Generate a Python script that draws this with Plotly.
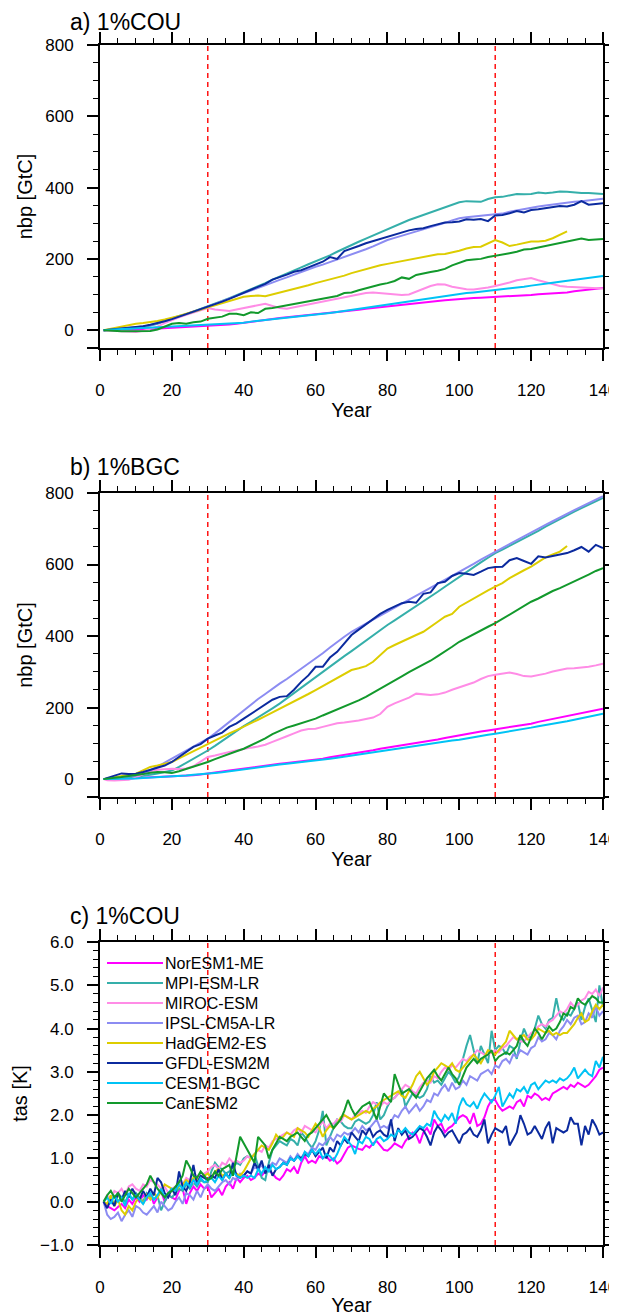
import plotly.graph_objects as go

# ---- data ---------------------------------------------------------------
models = ['NorESM1-ME', 'MPI-ESM-LR', 'MIROC-ESM', 'IPSL-CM5A-LR',
          'HadGEM2-ES', 'GFDL-ESM2M', 'CESM1-BGC', 'CanESM2']
colors = ['#FF00FF', '#35AFAA', '#FF8CE6', '#8C8CF2',
          '#DDCD00', '#0B2A9E', '#00C3F5', '#12992C']

years_ab = [1] + list(range(2, 141, 2))
years_had = years_ab[:66]          # HadGEM2-ES stops at year 130
years_c = list(range(1, 141))

# a) 1%COU  nbp [GtC]
cou_noresm = [0, 0, 0, 1, 1, 1, 2, 3, 4, 5, 6, 7, 8, 9, 11, 12, 13, 15, 16, 18, 21,
              23, 26, 28, 31, 34, 36, 38, 39, 41, 43, 46, 48, 50, 53, 55, 57, 60, 62, 65, 68,
              70, 72, 74, 76, 78, 80, 82, 84, 86, 87, 89, 90, 91, 92, 92, 93, 95, 96, 98, 99,
              101, 102, 104, 105, 106, 109, 111, 114, 116, 118]
cou_mpi = [0, 0, 1, 2, 4, 6, 9, 13, 18, 26, 34, 40, 45, 52, 59, 66, 74, 82, 90, 98, 107,
           115, 124, 132, 142, 150, 159, 168, 176, 185, 193, 200, 210, 220, 230, 239, 248, 257, 266, 275, 283,
           291, 300, 309, 316, 323, 330, 338, 346, 353, 359, 362, 360, 360, 368, 373, 374, 378, 382, 381, 382,
           386, 384, 386, 389, 388, 386, 385, 385, 384, 382]
cou_miroc = [0, -1, -2, -3, -4, -5, -2, 3, 10, 20, 29, 36, 43, 50, 56, 62, 58, 55, 54, 58, 62,
             66, 70, 74, 68, 62, 60, 64, 68, 72, 76, 80, 84, 88, 92, 97, 100, 104, 106, 104, 104,
             102, 99, 100, 108, 118, 124, 129, 128, 122, 118, 115, 114, 116, 120, 124, 128, 134, 140, 144, 146,
             140, 134, 128, 124, 122, 121, 121, 120, 118, 117]
cou_ipsl = [0, 1, 2, 3, 5, 7, 10, 14, 19, 25, 31, 38, 44, 50, 58, 66, 74, 82, 89, 97, 104,
            111, 119, 126, 134, 141, 148, 156, 163, 170, 178, 184, 191, 198, 204, 211, 219, 227, 235, 244, 253,
            259, 265, 271, 276, 281, 288, 294, 301, 308, 314, 317, 319, 321, 322, 323, 327, 332, 336, 341, 345,
            347, 350, 353, 356, 358, 360, 362, 365, 367, 369]
cou_hadgem = [0, 2, 5, 8, 12, 18, 20, 22, 26, 30, 34, 40, 46, 52, 57, 62, 68, 76, 82, 88, 94,
              96, 97, 95, 100, 104, 110, 115, 120, 126, 132, 137, 141, 146, 153, 160, 166, 172, 176, 182, 186,
              190, 195, 198, 201, 207, 211, 213, 214, 218, 223, 229, 233, 234, 244, 253, 246, 236, 240, 245, 249,
              249, 251, 258, 267, 277]
cou_gfdl = [0, 1, 2, 4, 6, 8, 11, 15, 19, 25, 31, 38, 44, 50, 58, 66, 72, 80, 88, 96, 104,
            112, 120, 130, 142, 148, 156, 164, 168, 176, 183, 192, 205, 200, 222, 228, 236, 244, 250, 258, 263,
            270, 275, 280, 284, 286, 292, 298, 302, 303, 305, 311, 310, 312, 306, 322, 323, 328, 334, 330, 337,
            339, 342, 346, 348, 347, 352, 362, 352, 354, 356]
cou_cesm = [0, 1, 2, 3, 4, 5, 6, 7, 8, 9, 10, 11, 12, 13, 14, 15, 16, 17, 18, 20, 21,
            24, 26, 29, 31, 34, 36, 38, 40, 42, 43, 46, 48, 51, 54, 57, 60, 62, 65, 68, 71,
            74, 78, 81, 85, 88, 91, 94, 97, 100, 102, 104, 106, 108, 111, 113, 115, 117, 120, 122, 125,
            127, 130, 133, 136, 139, 142, 144, 147, 150, 152]
cou_canesm = [0, -1, -2, -3, -3, -2, -1, -2, 2, 10, 18, 20, 18, 22, 24, 32, 34, 38, 46, 46, 42,
              50, 48, 60, 62, 66, 70, 72, 76, 80, 84, 90, 92, 96, 104, 106, 112, 118, 124, 128, 132,
              138, 148, 144, 155, 160, 163, 167, 172, 182, 190, 196, 198, 200, 205, 208, 212, 216, 220, 226, 228,
              232, 235, 240, 244, 248, 252, 257, 253, 254, 256]

# b) 1%BGC  nbp [GtC]
bgc_noresm = [0, 0, 0, 1, 2, 3, 4, 4, 5, 5, 6, 7, 9, 11, 13, 15, 18, 21, 24, 27, 29,
              32, 35, 38, 41, 43, 45, 47, 50, 52, 54, 57, 61, 64, 67, 71, 75, 78, 81, 85, 88,
              91, 94, 97, 101, 104, 108, 111, 115, 119, 122, 126, 130, 133, 136, 139, 142, 145, 149, 152, 155,
              160, 164, 169, 173, 178, 181, 185, 189, 193, 197]
bgc_mpi = [0, 0, 1, 2, 4, 6, 9, 12, 16, 20, 24, 34, 45, 56, 68, 80, 93, 107, 120, 134, 148,
           160, 172, 185, 198, 211, 226, 241, 256, 271, 286, 300, 315, 329, 344, 358, 373, 387, 402, 416, 431,
           444, 457, 470, 483, 496, 510, 524, 538, 552, 566, 579, 592, 606, 619, 632, 642, 652, 663, 673, 683,
           694, 706, 717, 728, 739, 748, 758, 767, 777, 786]
bgc_miroc = [0, -3, -4, -4, -2, 5, 14, 22, 26, 28, 29, 28, 30, 36, 48, 62, 66, 72, 76, 80, 85,
             88, 91, 96, 104, 113, 120, 128, 136, 140, 141, 146, 152, 156, 158, 160, 164, 168, 172, 182, 202,
             212, 220, 228, 239, 236, 235, 237, 242, 250, 256, 262, 270, 280, 288, 292, 294, 298, 294, 288, 287,
             290, 295, 301, 305, 309, 310, 311, 314, 318, 323]
bgc_ipsl = [0, 1, 3, 5, 7, 10, 16, 24, 34, 46, 57, 67, 78, 90, 102, 113, 128, 144, 160, 177, 193,
            208, 224, 238, 253, 267, 280, 294, 309, 323, 337, 352, 368, 384, 398, 412, 424, 435, 446, 457, 468,
            479, 490, 502, 513, 524, 535, 546, 558, 569, 580, 591, 602, 614, 625, 636, 647, 658, 669, 679, 690,
            700, 711, 721, 732, 742, 752, 762, 771, 781, 791]
bgc_hadgem = [0, 2, 5, 8, 12, 15, 24, 34, 38, 42, 48, 58, 68, 80, 88, 99, 109, 118, 128, 137, 146,
              156, 166, 176, 186, 197, 208, 218, 228, 238, 249, 260, 272, 282, 294, 305, 310, 316, 328, 346, 365,
              375, 385, 394, 403, 412, 425, 440, 454, 462, 482, 494, 506, 518, 528, 538, 548, 562, 574, 584, 594,
              606, 620, 628, 636, 652]
bgc_gfdl = [0, 3, 8, 16, 14, 15, 20, 26, 31, 38, 48, 62, 76, 90, 98, 113, 122, 130, 146, 156, 169,
            182, 196, 208, 222, 230, 232, 250, 272, 290, 314, 314, 340, 356, 380, 403, 418, 432, 448, 462, 473,
            482, 492, 496, 493, 518, 522, 548, 552, 568, 576, 574, 571, 580, 590, 593, 594, 612, 618, 610, 602,
            623, 620, 624, 627, 632, 640, 649, 636, 655, 646]
bgc_cesm = [0, 0, 0, 1, 1, 2, 3, 4, 5, 5, 6, 8, 10, 12, 13, 15, 17, 19, 22, 24, 26,
            29, 32, 35, 38, 41, 43, 45, 47, 50, 52, 54, 57, 60, 63, 66, 70, 73, 76, 80, 83,
            86, 89, 91, 94, 97, 99, 102, 105, 108, 110, 114, 117, 120, 124, 127, 130, 134, 137, 141, 144,
            148, 151, 155, 158, 162, 166, 170, 174, 178, 183]
bgc_canesm = [0, 2, 4, 6, 8, 10, 14, 18, 20, 19, 17, 22, 28, 36, 42, 48, 56, 64, 72, 78, 85,
              94, 104, 114, 126, 136, 144, 150, 156, 162, 169, 178, 186, 194, 202, 211, 220, 230, 241, 252, 263,
              275, 287, 299, 309, 319, 331, 344, 356, 370, 384, 395, 406, 416, 426, 436, 448, 460, 472, 484, 496,
              505, 516, 526, 534, 543, 552, 562, 572, 582, 590]

# c) 1%COU  tas [K]
tas_noresm = [0.00, -0.10, -0.15, -0.20, -0.12, -0.05, -0.15, 0.05, -0.05, 0.10,
              0.00, 0.15, 0.05, 0.20, -0.05, 0.10, 0.25, 0.00, 0.15, 0.10,
              0.05, 0.25, 0.30, -0.05, 0.20, 0.35, 0.25, 0.40, 0.30, 0.35,
              0.10, 0.20, 0.30, 0.15, 0.35, 0.45, 0.30, 0.55, 0.45, 0.55,
              0.60, 0.50, 0.55, 0.65, 0.60, 0.70, 0.72, 0.65, 0.55, 0.50,
              0.60, 0.75, 0.70, 0.80, 0.65, 0.90, 1.05, 0.90, 0.95, 0.90,
              1.05, 1.00, 1.05, 0.95, 1.00, 0.88, 0.95, 1.10, 1.25, 1.30,
              1.25, 1.22, 1.20, 1.30, 1.25, 1.35, 1.40, 1.30, 1.20, 1.18,
              1.25, 1.35, 1.30, 1.25, 1.40, 1.50, 1.60, 1.55, 1.35, 1.60,
              1.70, 1.55, 1.90, 1.75, 1.80, 1.60, 1.70, 1.75, 1.85, 1.95,
              2.00, 1.95, 1.80, 2.05, 1.75, 1.80, 1.95, 2.20, 2.35, 2.35,
              2.20, 2.10, 2.15, 2.20, 2.15, 2.30, 2.35, 2.20, 2.45, 2.40,
              2.50, 2.45, 2.35, 2.40, 2.35, 2.50, 2.55, 2.60, 2.65, 2.60,
              2.70, 2.65, 2.75, 2.70, 2.65, 2.70, 2.80, 2.90, 3.05, 3.10]
tas_mpi = [0.00, 0.10, 0.05, -0.05, 0.20, 0.10, 0.00, 0.15, 0.05, 0.20,
           0.10, 0.00, 0.20, 0.10, 0.05, 0.15, -0.20, 0.00, 0.15, 0.10,
           0.20, 0.30, 0.25, 0.40, 0.30, 0.45, 0.35, 0.50, 0.45, 0.45,
           0.70, 0.90, 0.80, 0.75, 0.65, 0.70, 0.80, 0.90, 0.85, 1.00,
           1.05, 1.00, 1.10, 0.80, 0.55, 0.50, 0.90, 1.20, 1.30, 1.40,
           1.35, 1.30, 1.45, 1.40, 1.30, 1.60, 1.50, 1.35, 1.25, 1.40,
           1.65, 2.10, 1.30, 1.50, 1.70, 1.90, 1.85, 1.75, 1.70, 1.70,
           1.85, 1.90, 1.85, 1.80, 1.85, 2.00, 2.30, 1.90, 2.00, 2.20,
           2.35, 2.40, 2.50, 2.60, 2.20, 2.35, 2.50, 2.45, 2.40, 2.45,
           2.60, 2.90, 2.75, 2.80, 2.70, 2.85, 3.00, 2.90, 2.75, 2.90,
           3.30, 3.60, 3.85, 3.50, 3.20, 3.60, 3.40, 3.20, 3.95, 3.50,
           3.60, 3.55, 3.40, 3.60, 3.55, 3.30, 3.70, 4.00, 3.80, 3.80,
           4.00, 4.30, 4.10, 4.00, 4.20, 4.25, 4.70, 4.30, 4.20, 4.35,
           4.30, 4.45, 4.60, 4.20, 4.50, 4.70, 4.40, 4.15, 5.00, 4.50]
tas_miroc = [0.00, 0.15, 0.05, 0.25, 0.20, 0.30, 0.15, 0.35, 0.40, 0.30,
             0.25, 0.40, 0.35, 0.50, 0.45, 0.40, 0.30, 0.35, 0.20, 0.30,
             0.35, 0.45, 0.40, 0.55, 0.50, 0.45, 0.60, 0.55, 0.65, 0.70,
             0.80, 0.85, 0.75, 0.90, 0.85, 1.00, 0.90, 0.95, 0.90, 0.95,
             1.05, 1.00, 1.10, 1.20, 1.15, 1.30, 1.25, 1.40, 1.45, 1.50,
             1.55, 1.60, 1.55, 1.65, 1.70, 1.60, 1.75, 1.70, 1.65, 1.60,
             1.75, 1.85, 1.70, 1.80, 1.80, 1.90, 1.85, 2.00, 1.95, 1.90,
             2.00, 2.05, 2.10, 2.05, 2.20, 2.30, 2.25, 2.20, 2.30, 2.25,
             2.35, 2.40, 2.50, 2.60, 2.70, 2.65, 2.55, 2.50, 2.65, 2.75,
             2.80, 2.75, 2.90, 2.85, 3.00, 3.10, 3.05, 3.15, 3.10, 3.20,
             3.30, 3.25, 3.35, 3.40, 3.50, 3.45, 3.40, 3.40, 3.45, 3.50,
             3.45, 3.55, 3.60, 3.70, 3.80, 3.75, 3.70, 3.70, 3.80, 3.90,
             3.95, 4.05, 4.10, 4.05, 4.15, 4.20, 4.30, 4.40, 4.35, 4.45,
             4.60, 4.50, 4.55, 4.65, 4.70, 4.85, 4.80, 4.90, 4.75, 4.95]
tas_ipsl = [0.00, -0.30, -0.40, -0.35, -0.25, -0.45, -0.30, -0.20, -0.35, -0.10,
            -0.15, -0.25, -0.30, -0.20, -0.10, -0.25, 0.00, -0.10, -0.20, -0.15,
            0.00, 0.10, -0.05, 0.20, 0.15, 0.05, 0.25, 0.10, 0.30, 0.40,
            0.30, 0.25, 0.35, 0.45, 0.50, 0.40, 0.55, 0.50, 0.65, 0.60,
            0.70, 0.65, 0.80, 0.75, 0.85, 0.70, 0.80, 0.90, 0.85, 1.00,
            0.95, 0.90, 1.05, 0.95, 1.10, 1.00, 1.15, 1.10, 1.25, 1.20,
            1.35, 1.30, 1.40, 1.50, 1.40, 1.55, 1.50, 1.60, 1.55, 1.60,
            1.70, 1.60, 1.75, 1.65, 1.70, 1.80, 1.90, 1.70, 1.75, 1.70,
            1.85, 2.00, 1.95, 2.10, 2.20, 2.05, 2.15, 2.25, 2.10, 2.20,
            2.35, 2.30, 2.50, 2.45, 2.60, 2.70, 2.55, 2.75, 2.60, 2.65,
            2.80, 2.70, 2.90, 2.85, 2.80, 2.95, 3.00, 3.05, 2.95, 3.15,
            3.10, 3.25, 3.30, 3.20, 3.40, 3.35, 3.50, 3.45, 3.40, 3.55,
            3.60, 3.80, 3.70, 3.75, 3.90, 3.85, 3.75, 3.95, 4.05, 4.20,
            4.10, 4.25, 4.30, 4.10, 4.15, 4.35, 4.25, 4.50, 4.30, 4.40]
tas_hadgem = [0.00, -0.05, 0.15, -0.10, 0.05, -0.20, -0.30, -0.10, -0.20, 0.00,
              0.10, -0.05, 0.15, 0.05, 0.20, 0.10, 0.25, 0.40, 0.35, 0.30,
              0.25, 0.35, 0.40, 0.50, 0.45, 0.55, 0.50, 0.55, 0.60, 0.65,
              0.55, 0.70, 0.75, 0.60, 0.65, 0.55, 0.70, 0.65, 0.60, 0.70,
              0.85, 1.00, 1.10, 1.20, 1.30, 1.25, 1.20, 1.35, 1.55, 1.45,
              1.50, 1.60, 1.55, 1.50, 1.70, 1.65, 1.60, 1.50, 1.65, 1.80,
              1.70, 1.50, 1.65, 1.75, 1.70, 1.80, 1.95, 2.00, 1.95, 1.90,
              1.95, 2.00, 2.05, 2.10, 2.05, 2.15, 2.20, 2.30, 2.35, 2.40,
              2.45, 2.50, 2.55, 2.45, 2.40, 2.55, 2.70, 2.90, 3.00, 2.85,
              2.70, 2.80, 3.00, 3.10, 3.20, 3.15, 3.10, 3.20, 3.05, 3.00,
              3.10, 3.20, 3.30, 3.40, 3.30, 3.20, 3.35, 3.50, 3.45, 3.40,
              3.50, 3.60, 3.70, 3.95, 3.85, 3.75, 3.80, 3.85, 3.75, 3.75,
              3.85, 4.00, 3.95, 3.90, 3.95, 3.85, 3.90, 3.85, 3.90, 3.90,
              4.00, 4.10, 4.25, 4.35, 4.15, 4.20, 4.40, 4.55, 4.45, 4.55]
tas_gfdl = [0.00, -0.15, 0.05, -0.10, 0.20, 0.05, 0.25, 0.10, 0.30, 0.15,
            0.05, 0.25, 0.10, 0.30, 0.15, 0.55, 0.45, 0.20, 0.10, 0.30,
            0.15, 0.70, 0.35, 0.25, 0.45, 0.85, 0.40, 0.60, 0.55, 0.50,
            0.60, 0.55, 0.75, 0.50, 0.65, 0.55, 0.90, 0.60, 0.55, 0.60,
            0.70, 0.65, 0.90, 0.75, 0.95, 0.65, 0.85, 0.60, 0.75, 0.80,
            0.90, 0.85, 1.00, 0.95, 1.05, 1.00, 1.10, 1.05, 1.20, 1.05,
            1.15, 1.25, 1.00, 1.25, 1.15, 1.40, 1.30, 1.45, 1.35, 1.60,
            1.50, 1.40, 1.65, 1.55, 1.70, 1.50, 1.60, 1.65, 1.55, 1.50,
            1.90, 1.40, 1.70, 1.55, 1.65, 1.45, 1.50, 1.60, 1.70, 1.65,
            1.50, 1.30, 1.60, 1.75, 1.65, 1.50, 1.60, 1.65, 1.50, 1.35,
            1.55, 1.60, 1.70, 1.55, 1.50, 1.65, 1.90, 1.35, 1.55, 1.70,
            1.65, 1.60, 1.75, 1.30, 1.45, 1.60, 2.00, 1.80, 1.55, 1.60,
            1.75, 1.60, 1.45, 1.70, 1.85, 1.35, 1.70, 1.65, 1.60, 1.65,
            1.95, 1.80, 1.80, 1.30, 1.75, 1.55, 1.90, 1.75, 1.55, 1.60]
tas_cesm = [0.00, 0.10, -0.05, 0.15, 0.00, 0.10, -0.10, 0.20, 0.05, 0.15,
            0.05, -0.05, 0.10, 0.20, 0.05, 0.15, 0.30, 0.10, 0.20, 0.30,
            0.25, 0.40, 0.30, 0.45, 0.35, 0.50, 0.40, 0.55, 0.45, 0.50,
            0.55, 0.45, 0.60, 0.50, 0.65, 0.55, 0.70, 0.60, 0.55, 0.60,
            0.55, 0.60, 0.55, 0.75, 0.65, 0.80, 0.70, 0.85, 0.75, 0.80,
            0.90, 0.85, 1.00, 0.95, 1.05, 0.95, 1.15, 1.05, 1.20, 1.10,
            1.20, 1.00, 1.10, 1.05, 0.95, 1.10, 1.30, 1.50, 1.40, 1.30,
            1.10, 1.40, 1.35, 1.50, 1.45, 1.30, 1.45, 1.50, 1.40, 1.45,
            1.55, 1.50, 1.65, 1.60, 1.70, 1.60, 1.55, 1.65, 1.75, 1.70,
            1.80, 1.75, 2.10, 1.95, 1.85, 2.00, 1.90, 2.05, 1.80, 2.20,
            2.40, 2.25, 2.20, 2.30, 2.15, 2.35, 2.50, 2.40, 2.30, 2.45,
            2.65, 2.20, 2.35, 2.50, 2.40, 2.60, 2.55, 2.65, 2.50, 2.70,
            2.75, 2.60, 2.70, 2.80, 2.75, 2.80, 2.75, 2.85, 2.80, 2.85,
            2.95, 3.10, 2.85, 2.95, 3.05, 2.95, 2.90, 3.25, 3.10, 3.35]
tas_canesm = [0.00, 0.15, 0.25, 0.10, 0.20, 0.00, 0.15, 0.30, 0.20, 0.10,
              0.20, 0.30, 0.40, 0.60, 0.45, 0.30, 0.20, 0.10, 0.20, 0.25,
              0.35, 0.45, 0.60, 0.95, 0.80, 0.60, 0.55, 0.70, 0.60, 0.50,
              0.55, 0.70, 0.60, 0.75, 0.80, 0.85, 0.60, 1.10, 1.50, 1.35,
              1.20, 1.05, 0.90, 1.50, 1.40, 1.30, 1.00, 1.20, 1.35, 1.50,
              1.45, 1.40, 1.50, 1.55, 1.60, 1.50, 1.40, 1.55, 1.60, 1.70,
              1.80, 1.90, 2.00, 1.85, 1.70, 1.80, 1.90, 2.10, 2.35, 2.15,
              2.00, 2.10, 2.20, 2.25, 2.30, 2.10, 1.90, 2.20, 2.50, 2.40,
              2.30, 2.95, 2.70, 2.50, 2.55, 2.60, 2.50, 2.40, 2.55, 2.70,
              2.85, 2.95, 3.05, 2.90, 2.80, 2.95, 3.10, 2.95, 2.85, 2.70,
              2.90, 3.10, 3.20, 3.30, 3.20, 3.30, 3.35, 3.40, 3.50, 3.25,
              3.35, 3.40, 3.45, 3.40, 3.50, 3.60, 3.85, 3.70, 3.60, 3.80,
              4.00, 3.90, 3.75, 3.90, 4.05, 3.95, 4.00, 4.15, 4.35, 4.30,
              4.50, 4.45, 4.70, 4.60, 4.55, 4.65, 4.75, 4.70, 4.60, 4.60]

panel_a = [cou_noresm, cou_mpi, cou_miroc, cou_ipsl, cou_hadgem, cou_gfdl, cou_cesm, cou_canesm]
panel_b = [bgc_noresm, bgc_mpi, bgc_miroc, bgc_ipsl, bgc_hadgem, bgc_gfdl, bgc_cesm, bgc_canesm]
panel_c = [tas_noresm, tas_mpi, tas_miroc, tas_ipsl, tas_hadgem, tas_gfdl, tas_cesm, tas_canesm]

year_ticks = list(range(0, 141, 20))
nbp_ticks = [-50, 0, 200, 400, 600, 800]
nbp_labels = ['', '0', '200', '400', '600', '800']
tas_ticks = [-1.0, 0.0, 1.0, 2.0, 3.0, 4.0, 5.0, 6.0]
period_marks = [30, 110]

# ---- figure -------------------------------------------------------------
# the page body adds an 8px margin, so the figure is drawn 8px smaller
OFF = 8
W, H = 617 - OFF, 1316 - OFF
FONT = 'Liberation Sans, Arial, Helvetica, sans-serif'


def px(x):
    return (x - OFF) / W


def py(y):
    return 1 - (y - OFF) / H


x_dom = [px(100), px(603)]
# (top, bottom) pixel edges of each panel box
boxes = [(45, 348), (493, 797), (942, 1245)]
titles = ['a) 1%COU', 'b) 1%BGC', 'c) 1%COU']
title_y = [22, 467, 916]

fig = go.Figure()

for p, series in enumerate([panel_a, panel_b, panel_c]):
    xa = 'x' if p == 0 else 'x%d' % (p + 1)
    ya = 'y' if p == 0 else 'y%d' % (p + 1)
    for yr in period_marks:
        fig.add_shape(type='line', xref=xa, yref=ya + ' domain', x0=yr, x1=yr, y0=0, y1=1,
                      line=dict(color='#FF0000', width=1.4, dash='5px,4px'), layer='below')
    for m, vals in enumerate(series):
        if p == 2:
            xs = years_c
        else:
            xs = years_had if models[m] == 'HadGEM2-ES' else years_ab
        fig.add_trace(go.Scatter(x=xs, y=vals, mode='lines', name=models[m],
                                 line=dict(color=colors[m], width=2),
                                 xaxis=xa, yaxis=ya, showlegend=False))
    fig.add_annotation(text=titles[p], xref='paper', yref='paper', x=px(69), y=py(title_y[p]),
                       xanchor='left', yanchor='middle', showarrow=False, borderpad=0,
                       font=dict(size=23, family=FONT, color='black'))

# legend of panel c, drawn as short line keys with labels
for m, name in enumerate(models):
    yk = 963 + 20 * m
    fig.add_shape(type='line', xref='paper', yref='paper', x0=px(107), x1=px(163),
                  y0=py(yk), y1=py(yk), line=dict(color=colors[m], width=2))
    fig.add_annotation(text=name, xref='paper', yref='paper', x=px(163), y=py(yk),
                       xanchor='left', yanchor='middle', showarrow=False,
                       font=dict(size=16, family=FONT, color='black'))

axis_common = dict(showline=True, linewidth=2, linecolor='black', mirror='allticks',
                   ticks='outside', ticklen=11, tickwidth=2, tickcolor='black', automargin=False,
                   showgrid=False, zeroline=False, tickfont=dict(size=17, family=FONT, color='black'))

layout = dict(width=W, height=H, margin=dict(l=0, r=0, t=0, b=0),
              plot_bgcolor='white', paper_bgcolor='white',
              font=dict(family=FONT, color='black'), showlegend=False)

for p in range(3):
    top, bottom = boxes[p]
    xk = 'xaxis' if p == 0 else 'xaxis%d' % (p + 1)
    yk = 'yaxis' if p == 0 else 'yaxis%d' % (p + 1)
    ya = 'y' if p == 0 else 'y%d' % (p + 1)
    xa = 'x' if p == 0 else 'x%d' % (p + 1)
    layout[xk] = dict(axis_common, domain=x_dom, anchor=ya, range=[0, 140],
                      tickvals=year_ticks, ticklabelstandoff=15, ticklabeloverflow='allow',
                      minor=dict(dtick=5, tick0=0, ticks='outside', ticklen=5, tickwidth=1, tickcolor='black'),
                      title=dict(text='Year', font=dict(size=20, family=FONT), standoff=4))
    if p < 2:
        layout[yk] = dict(axis_common, domain=[py(bottom), py(top)], anchor=xa,
                          range=[-50, 800], tickvals=nbp_ticks, ticktext=nbp_labels,
                          ticklabelstandoff=10,
                          minor=dict(dtick=50, tick0=0, ticks='outside', ticklen=5, tickwidth=1,
                                     tickcolor='black'),
                          title=dict(text='nbp [GtC]', font=dict(size=20, family=FONT), standoff=7))
    else:
        layout[yk] = dict(axis_common, domain=[py(bottom), py(top)], anchor=xa,
                          range=[-1, 6], tickvals=tas_ticks, tickformat='.1f',
                          ticklabelstandoff=10,
                          minor=dict(dtick=0.2, tick0=0, ticks='outside', ticklen=5, tickwidth=1,
                                     tickcolor='black'),
                          title=dict(text='tas [K]', font=dict(size=20, family=FONT), standoff=7))

fig.update_layout(**layout)
fig.write_html('out.html')
